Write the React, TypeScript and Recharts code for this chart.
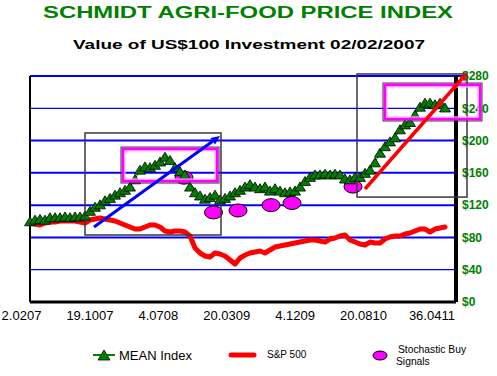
import React from "react";
import {
  ComposedChart,
  Line,
  Scatter,
  XAxis,
  YAxis,
  ReferenceLine,
  ReferenceArea,
  Legend,
  Customized,
} from "recharts";

// ---- data (x = weekly sample index) ----
const dateLabels = ["2.0207", "19.1007", "4.0708", "20.0309", "4.1209", "20.0810", "36.0411"];
const tickStep = 13.68;

const meanIndex = [
  100, 102, 103, 102, 105, 105, 105, 106, 105, 106,
  106, 107, 113, 118, 121, 126, 129, 133, 136, 139,
  143, 152, 164, 168, 167, 170, 174, 180, 176, 167,
  162, 158, 143, 136, 132, 128, 130, 133, 127, 129,
  132, 136, 139, 143, 146, 143, 141, 143, 138, 141,
  138, 136, 137, 138, 143, 150, 155, 158, 158, 159,
  158, 159, 158, 153, 152, 155, 155, 160, 164, 173,
  185, 193, 199, 204, 214, 220, 223, 232, 242, 247,
  247, 245, 247, 241,
];

const sp500 = [
  97.9, 96.6, 95.4, 97.9, 99.1, 99.1, 100.4, 100.4, 100.4, 100.4,
  99.1, 97.9, 101.6, 102.8, 104, 102.8, 101.6, 100.4, 97.9, 95.4,
  92.9, 90.4, 90.4, 92.9, 95.4, 95.4, 92.9, 88, 86.7, 88,
  88, 86.7, 81.8, 66.9, 60.7, 57, 55.8, 60.7, 59.5, 57,
  52, 47, 54.5, 58.2, 60.7, 62, 63.2, 60.7, 64.4, 68.1,
  69.4, 70.6, 71.9, 73.1, 74.3, 75.6, 76.8, 76.8, 75.6, 74.3,
  78, 79.3, 81.8, 83, 76.8, 74.3, 71.9, 70.6, 74.3, 73.1,
  73.1, 78, 80.5, 81.8, 81.8, 84.3, 85.5, 88, 90.4, 90.4,
  86.7, 90.4, 91.7, 92.9,
];

const signalPos = [30.8, 36.7, 41.6, 48.2, 52.4, 64.6];
const signalValues = [154, 111, 113.4, 120, 122.7, 143];

const yTicks = [0, 40, 80, 120, 160, 200, 240, 280];

const data = meanIndex.map((m, i) => ({ i, mean: m, sp: sp500[i] }));
const signals = signalPos.map((p, k) => ({ i: p, sig: signalValues[k] }));
const xTicks = dateLabels.map((_, k) => k * tickStep);

// ---- annotation positions (data units) ----
const box1 = { x1: 11, x2: 38.2, y1: 83, y2: 209.4 };
const pinkBox1 = { x1: 18.2, x2: 37.8, y1: 147.4, y2: 192 };
const blueArrow = [{ x: 12.8, y: 93 }, { x: 38, y: 205.7 }];
const box2 = { x1: 65.4, x2: 87.4, y1: 130, y2: 282.5 };
const pinkBox2 = { x1: 70.6, x2: 90.4, y1: 224.3, y2: 271.3 };
const redArrow = [{ x: 67, y: 140 }, { x: 87.4, y: 283.7 }];

const FONT = "Arial, 'Liberation Sans', sans-serif";
const GREEN = "#008000";

const Triangle = (props: any) => {
  const { cx, cy, index } = props;
  if (cx == null || cy == null) return <g key={`t${index}`} />;
  return (
    <polygon
      key={`t${index}`}
      points={`${cx},${cy - 4.5} ${cx - 5.5},${cy + 4.5} ${cx + 5.5},${cy + 4.5}`}
      fill={GREEN}
      stroke="#000"
      strokeWidth={0.8}
    />
  );
};

const Ellipse = (props: any) => {
  const { cx, cy } = props;
  return <ellipse cx={cx} cy={cy} rx={9} ry={6.5} fill="#ff00ff" stroke="#000" strokeWidth={1} />;
};

const arrowShape = (color: string, width: number, head: number) => (props: any) => {
  const { x1, y1, x2, y2 } = props;
  const ang = Math.atan2(y2 - y1, x2 - x1);
  const hx = x2 - head * Math.cos(ang);
  const hy = y2 - head * Math.sin(ang);
  const w = head * 0.45;
  const lx = hx + w * Math.sin(ang);
  const ly = hy - w * Math.cos(ang);
  const rx = hx - w * Math.sin(ang);
  const ry = hy + w * Math.cos(ang);
  return (
    <g>
      <line x1={x1} y1={y1} x2={hx} y2={hy} stroke={color} strokeWidth={width} />
      <polygon points={`${x2},${y2} ${lx},${ly} ${rx},${ry}`} fill={color} />
    </g>
  );
};

const blackBoxShape = (props: any) => {
  const { x, y, width, height } = props;
  return <rect x={x} y={y} width={width} height={height} fill="none" stroke="#383838" strokeWidth={1.5} />;
};

const pinkBoxShape = (props: any) => {
  const { x, y, width, height } = props;
  return (
    <g>
      <rect x={x} y={y} width={width} height={height} fill="none" stroke="#333" strokeWidth={1} />
      <rect x={x + 2} y={y + 2} width={width - 4} height={height - 4} fill="none" stroke="#ff00ff" strokeWidth={3} />
      <rect x={x + 4} y={y + 4} width={width - 8} height={height - 8} fill="none" stroke="#ffb8ff" strokeWidth={1.2} />
    </g>
  );
};

const XTick = (props: any) => {
  const { x, y, payload, index } = props;
  return (
    <text x={x - 8.5} y={y + 18} textAnchor="middle" fontFamily={FONT} fontSize={13} fill="#000">
      {dateLabels[index] ?? ""}
    </text>
  );
};

const YTick = (props: any) => {
  const { x, y, payload } = props;
  return (
    <text x={x} y={y} dy="0.36em" textAnchor="start" fontFamily={FONT} fontSize={12} fontWeight="bold" fill={GREEN}>
      {`$${payload.value}`}
    </text>
  );
};

const Titles = () => (
  <g>
    <text
      x={248}
      y={17.5}
      textAnchor="middle"
      fontFamily={FONT}
      fontWeight="bold"
      fontSize={16}
      fill={GREEN}
      textLength={410}
      lengthAdjust="spacingAndGlyphs"
    >
      SCHMIDT AGRI-FOOD PRICE INDEX
    </text>
    <text
      x={249}
      y={48.5}
      textAnchor="middle"
      fontFamily={FONT}
      fontWeight="bold"
      fontSize={12}
      fill="#000"
      textLength={352}
      lengthAdjust="spacingAndGlyphs"
    >
      Value of US$100 Investment 02/02/2007
    </text>
  </g>
);

const LegendContent = () => (
  <svg width={497} height={32} style={{ display: "block" }}>
    <line x1={93} y1={15} x2={115} y2={15} stroke={GREEN} strokeWidth={2} />
    <polygon points="104,10 98,20 110,20" fill={GREEN} stroke="#000" strokeWidth={0.8} />
    <text x={119} y={20} fontFamily={FONT} fontSize={13} fill="#000">MEAN Index</text>
    <line x1={231} y1={15} x2={254} y2={15} stroke="#ff0000" strokeWidth={5} strokeLinecap="round" />
    <text x={267} y={18} fontFamily={FONT} fontSize={10} fill="#000">S&amp;P 500</text>
    <ellipse cx={380} cy={15.5} rx={7} ry={4.5} fill="#ff00ff" stroke="#000" strokeWidth={1} />
    <text x={398} y={13} fontFamily={FONT} fontSize={10.3} fill="#000">Stochastic Buy</text>
    <text x={396} y={25} fontFamily={FONT} fontSize={10.3} fill="#000">Signals</text>
  </svg>
);

export default function App() {
  return (
    <div style={{ position: "absolute", left: 0, top: 0, width: 497, height: 376, background: "#fff" }}>
      <ComposedChart
        width={497}
        height={376}
        data={data}
        margin={{ top: 76, right: 0, bottom: 44, left: 30 }}
      >
        <XAxis
          type="number"
          dataKey="i"
          domain={[0, 85.2]}
          ticks={xTicks}
          interval={0}
          axisLine={{ stroke: "#000", strokeWidth: 3 }}
          tickLine={false}
          tickSize={0}
          tickMargin={0}
          height={30}
          tick={<XTick />}
        />
        <YAxis
          orientation="right"
          width={41}
          domain={[0, 280]}
          ticks={yTicks}
          interval={0}
          axisLine={{ stroke: "#000", strokeWidth: 4 }}
          tickLine={false}
          tickSize={0}
          tickMargin={6}
          tick={<YTick />}
        />
        {yTicks
          .filter((v) => v > 0 && v < 280)
          .map((v) => (
            <ReferenceLine
              key={`g${v}`}
              y={v}
              stroke="#0000ff"
              strokeWidth={v === 240 || v === 40 ? 1.2 : 2}
              zIndex={-50}
            />
          ))}
        <ReferenceLine
          segment={[{ x: 0, y: 280 }, { x: 86.6, y: 280 }]}
          stroke="#0000ff"
          strokeWidth={2}
          ifOverflow="visible"
          zIndex={-50}
        />
        <ReferenceLine x={0} stroke="#000" strokeWidth={2} zIndex={-40} />
        <Scatter data={signals} dataKey="sig" shape={<Ellipse />} isAnimationActive={false} zIndex={350} />
        <Line
          dataKey="mean"
          stroke={GREEN}
          strokeWidth={1}
          dot={(p: any) => <Triangle key={`t${p.index}`} {...p} />}
          activeDot={false}
          isAnimationActive={false}
          zIndex={400}
        />
        <Line
          dataKey="sp"
          stroke="#ff0000"
          strokeWidth={5}
          strokeLinejoin="round"
          strokeLinecap="round"
          dot={false}
          activeDot={false}
          isAnimationActive={false}
          zIndex={420}
        />
        <ReferenceArea {...box1} ifOverflow="visible" shape={blackBoxShape} zIndex={2500} />
        <ReferenceArea {...pinkBox1} ifOverflow="visible" shape={pinkBoxShape} zIndex={2500} />
        <ReferenceLine
          segment={blueArrow}
          ifOverflow="visible"
          shape={arrowShape("#0000ff", 3, 9)}
          stroke="#0000ff"
          zIndex={2500}
        />
        <ReferenceArea {...box2} ifOverflow="visible" shape={blackBoxShape} zIndex={2500} />
        <ReferenceArea {...pinkBox2} ifOverflow="visible" shape={pinkBoxShape} zIndex={2500} />
        <ReferenceLine
          segment={redArrow}
          ifOverflow="visible"
          shape={arrowShape("#ff0000", 3.5, 8)}
          stroke="#ff0000"
          zIndex={2500}
        />
        <Legend
          layout="horizontal"
          verticalAlign="middle"
          align="center"
          wrapperStyle={{ position: "absolute", left: 0, top: 340, width: 497, height: 32 }}
          content={<LegendContent />}
        />
        <Customized component={<Titles />} />
      </ComposedChart>
    </div>
  );
}
